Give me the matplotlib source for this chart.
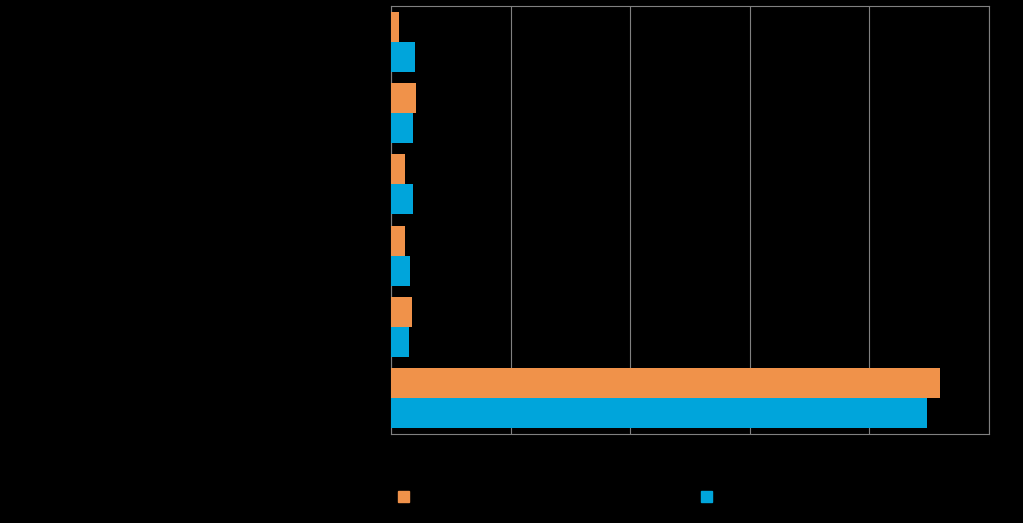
import numpy as np
import matplotlib.pyplot as plt

categories = ["A", "B", "C", "D", "E", "F"]
orange_vals = [1.3, 4.2, 2.3, 2.3, 3.5, 91.8]
blue_vals = [4.0, 3.7, 3.7, 3.2, 3.0, 89.6]

fig = plt.figure(figsize=(10.23, 5.23), dpi=100, facecolor="black")
ax = fig.add_axes([391/1023, 1-434/523, 598/1023, 428/523], facecolor="black")

y = np.arange(len(categories))
h = 0.42
ax.barh(y - h/2, orange_vals, height=h, color="#F0924A", zorder=3)
ax.barh(y + h/2, blue_vals, height=h, color="#00A5DB", zorder=3)

ax.set_xlim(0, 100)
ax.set_ylim(len(categories) - 0.5, -0.5)
ax.set_xticks(np.arange(0, 101, 20))
ax.set_yticks(y)
ax.set_yticklabels(categories, color="black")
ax.tick_params(colors="black", length=0, labelcolor="black")
ax.grid(axis="x", color="#808080", linewidth=0.8, zorder=0)
for s in ax.spines.values():
    s.set_color("#808080")
    s.set_linewidth(0.8)

# legend markers
fig.patches.append(plt.Rectangle((398/1023, 1-502/523), 11/1023, 11/523,
                                 transform=fig.transFigure, color="#F0924A"))
fig.patches.append(plt.Rectangle((701/1023, 1-502/523), 11/1023, 11/523,
                                 transform=fig.transFigure, color="#00A5DB"))

fig.savefig("out.png", dpi=100, facecolor="black")
